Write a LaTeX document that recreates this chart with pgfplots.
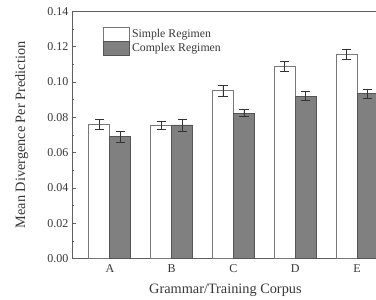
\documentclass[border=0pt]{standalone}
\usepackage{pgfplots}
\pgfplotsset{compat=1.18}
\usepackage{fontspec}
\setmainfont{Liberation Serif}
\definecolor{txt}{RGB}{55,55,55}
\definecolor{axc}{RGB}{95,95,95}
\definecolor{cfill}{RGB}{128,128,128}
\definecolor{cedge}{RGB}{85,85,85}
\definecolor{sedge}{RGB}{120,120,120}
\begin{document}
\begin{tikzpicture}[x=1pt,y=1pt]
\clip (0,0) rectangle (376,300);
\begin{axis}[
  at={(72pt,41.5pt)}, anchor=south west,
  scale only axis, width=323pt, height=247pt,
  xmin=-0.613, xmax=4.613, ymin=0, ymax=0.14,
  ybar=0pt, bar width=21pt,
  axis line style={axc, line width=0.8pt},
  axis x line*=bottom,
  xtick={0,1,2,3,4}, xticklabels={A,B,C,D,E},
  xtick style={draw=none},
  xticklabel style={yshift=-3pt},
  ytick={0,0.02,...,0.14},
  minor ytick={0.01,0.03,...,0.13},
  ytick pos=left, tick align=inside,
  major tick length=4pt, minor tick length=2.5pt,
  tick style={axc, line width=0.6pt},
  yticklabel style={/pgf/number format/.cd, fixed, fixed zerofill, precision=2},
  /pgf/number format/assume math mode=true,
  tick label style={font=\fontsize{12}{14}\selectfont, text=txt},
  xlabel={Grammar/Training Corpus},
  ylabel={Mean Divergence Per Prediction},
  label style={font=\fontsize{14.3}{16}\selectfont, text=txt},
  ylabel style={at={(axis description cs:-0.125,0.5)}},
  xlabel style={at={(axis description cs:0.475,-0.09)}},
  legend style={draw=none, fill=none, at={(0.096,0.94)}, anchor=north west,
    font=\fontsize{11.8}{14}\selectfont, text=txt, row sep=-0.6pt,
    inner sep=0pt, /tikz/every even column/.append style={column sep=6pt}},
  legend image code/.code={\draw[#1] (0pt,-7pt) rectangle (26pt,7pt);},
  legend cell align=left,
]
\addplot+[fill=white, draw=sedge, line width=0.8pt,
  error bars/.cd, y dir=both, y explicit,
  error bar style={line width=0.7pt, black!80},
  error mark options={rotate=90, mark size=4.6pt, line width=0.7pt, black!80}]
  coordinates {
  (0,0.0761) +- (0,0.0030)
  (1,0.0755) +- (0,0.0024)
  (2,0.0951) +- (0,0.0030)
  (3,0.1087) +- (0,0.0028)
  (4,0.1158) +- (0,0.0030)
  };
\addplot+[fill=cfill, draw=cedge, line width=0.8pt,
  error bars/.cd, y dir=both, y explicit,
  error bar style={line width=0.7pt, black!80},
  error mark options={rotate=90, mark size=4.6pt, line width=0.7pt, black!80}]
  coordinates {
  (0,0.0690) +- (0,0.0030)
  (1,0.0757) +- (0,0.0034)
  (2,0.0823) +- (0,0.0020)
  (3,0.0921) +- (0,0.0024)
  (4,0.0933) +- (0,0.0024)
  };
\legend{Simple Regimen, Complex Regimen}
\draw[axc, line width=0.8pt] (rel axis cs:0,0) -- (rel axis cs:0,1) -- (rel axis cs:1,1);
\end{axis}
\end{tikzpicture}
\end{document}
